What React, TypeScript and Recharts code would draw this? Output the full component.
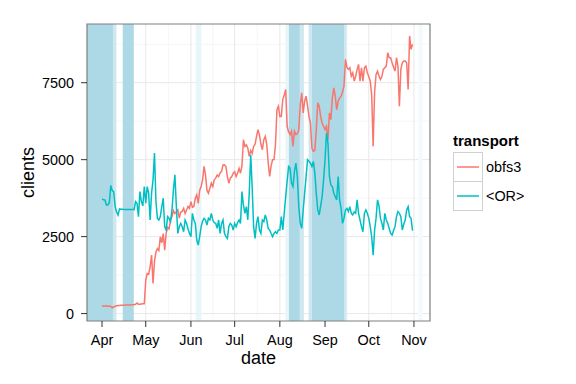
import { LineChart, Line, XAxis, YAxis, CartesianGrid, ReferenceArea, Legend, Label } from 'recharts';

const FONT = '"Liberation Sans", Arial, sans-serif';

// x is days since Apr 1
const monthLabels = ['Apr', 'May', 'Jun', 'Jul', 'Aug', 'Sep', 'Oct', 'Nov'];
const monthStarts = [0, 30, 61, 91, 122, 153, 183, 214];
const monthMids = [15, 45.5, 76, 106.5, 137.5, 168, 198.5];
const clientTicks = [0, 2500, 5000, 7500];
const clientMinor = [1250, 3750, 6250, 8750];

const X_MIN = -10.3;
const X_MAX = 225;
const Y_MIN = -241;
const Y_MAX = 9407;

const obfs3 = [
  250, 250, 245, 255, 240, 245, 235, 190, 215, 240,
  255, 260, 265, 268, 270, 272, 275, 278, 280, 282, 285, 288, 290,
  300, 344, 300, 300, 310, 320, 320,
  1083, 1300, 1280, 1518, 1899, 975, 1700, 2000, 2116, 2050,
  2497, 2300, 2600, 2062, 2605, 2800, 2750, 3040, 3150, 3350,
  3250, 3300, 3366, 3100, 3300, 3320, 3420, 3250, 3366, 3480,
  3420, 3638, 3450, 3480, 3750, 3855, 3580, 4000, 4127, 4350,
  4780, 4500, 4000, 3910, 4070, 4236, 4127, 4346, 4400, 4500,
  4450, 4570, 4620, 4830, 4834, 4779, 4450, 4236, 4400, 4453,
  4560, 4610, 4450, 4560, 4720, 4560, 4800, 5649, 5430, 5480,
  5380, 5105, 5300, 5200, 5430, 5500, 5757, 5975, 5800, 5500,
  5323, 5650, 5757, 5500, 4900, 4453, 4800, 4997, 5000, 5500,
  6627, 6736, 6400, 6410, 6953, 7100, 7279, 6084, 5900, 5812,
  5921, 5431, 5921, 5812, 5850, 5975, 6800, 7171, 6518, 6900,
  7062, 6736, 6400, 6192, 5378, 5268, 5300, 5975, 6845, 6736,
  6400, 6192, 6084, 5975, 6084, 5649, 6518, 6301, 7000, 7334,
  7062, 6627, 6900, 7008, 7062, 7200, 7388, 8258, 8000, 7932,
  7986, 7714, 7823, 7551, 7700, 7932, 8095, 7551, 7986, 7551,
  7986, 8040, 7823, 7700, 7551, 7100, 5431, 7200, 7768, 7877,
  7714, 7605, 7700, 7932, 7986, 8040, 8475, 8312, 8312, 8149,
  8000, 7877, 8312, 8040, 6736, 7932, 8149, 8203, 8203, 8150,
  7279, 9019, 8584, 8747,
];

const orClients = [
  3725, 3700, 3692, 3529, 3529, 3600, 4160, 4000, 3964, 3475,
  3300, 3203, 3399, 3390, 3388, 3385, 3385, 3383, 3380, 3380, 3380, 3378, 3375,
  3638, 3583, 3149, 3964, 3638, 3500, 4127,
  3583, 4127, 3910, 3040, 3910, 4344, 5214, 3638, 3094, 3040,
  3149, 3475, 3747, 2823, 2714, 3149, 3094, 2986, 3366, 4018,
  4507, 3475, 2605, 2823, 2931, 2823, 2660, 3040, 2931, 2750,
  2605, 2497, 3257, 3040, 2931, 2388, 2225, 2500, 2823, 3000,
  3094, 3040, 2877, 3094, 3040, 3257, 3040, 2950, 2931, 2768,
  3040, 2605, 2931, 3040, 2605, 2500, 2442, 2823, 2931, 2877,
  2714, 2931, 2823, 2950, 3040, 2931, 3964, 3529, 3257, 3475,
  3040, 3910, 5160, 4127, 2823, 2442, 2931, 3149, 2714, 2605,
  3040, 2986, 3203, 3040, 2768, 2714, 2600, 2497, 2605, 2660,
  2605, 2714, 2714, 3149, 2714, 3257, 3801, 4300, 4779, 4725,
  4236, 4127, 4616, 4888, 4453, 3475, 2931, 2768, 3366, 3910,
  4453, 4997, 4950, 4888, 4779, 4944, 4562, 3910, 3366, 3203,
  3500, 3801, 4344, 4997, 5868, 5540, 4453, 4181, 4127, 3910,
  3800, 3692, 4453, 3692, 3420, 2931, 3094, 3366, 3420, 3312,
  3475, 3257, 3203, 3300, 3257, 3692, 3257, 3040, 2823, 2660,
  3257, 3366, 3257, 3100, 2823, 2497, 1899, 2714, 3100, 3692,
  3500, 3100, 2931, 2714, 3257, 3040, 2931, 2768, 2605, 2551,
  2700, 2823, 3149, 3312, 3257, 3149, 2714, 2900, 3040, 3366,
  3475, 3149, 3094, 2693,
];

// shaded periods (days since Apr 1)
const darkSpans = [[X_MIN, 7.5], [14.2, 21.8], [128.2, 135.7], [144, 166]];
const paleSpans = [[7.5, 9.9], [135.7, 138.5], [141.7, 144], [166, 167.8]];
const faintSpans = [[64.3, 68.2], [125.8, 128.2]];
const veryFaintSpans = [[217, 220]];

const series = [
  { key: 'obfs3', name: 'obfs3', color: '#F8766D' },
  { key: 'or', name: '<OR>', color: '#00BFC4' },
];

const data = obfs3.map((v, i) => ({ day: i, obfs3: v, or: orClients[i] }));

function TransportLegend() {
  return (
    <svg width={120} height={92} style={{ fontFamily: FONT }}>
      <text x={8} y={21} fontSize={15} fontWeight="bold" fill="#000">transport</text>
      {series.map((s, i) => (
        <g key={s.key}>
          <rect x={8.5} y={27.5 + i * 29} width={29} height={29} fill="#fff" stroke="#D0D0D0" />
          <line x1={12} x2={34} y1={42 + i * 29} y2={42 + i * 29} stroke={s.color} strokeWidth={1.5} />
          <text x={41} y={47 + i * 29} fontSize={14.4} fill="#000">{s.name}</text>
        </g>
      ))}
    </svg>
  );
}

export default function App() {
  return (
    <div style={{ position: 'absolute', left: 0, top: 0, width: 576, height: 384, background: '#fff' }}>
      <LineChart
        width={576}
        height={384}
        data={data}
        margin={{ top: 24, right: 146, left: 30, bottom: 33 }}
        style={{ fontFamily: FONT }}
      >
        <CartesianGrid stroke="#F6F6F6" horizontalValues={clientMinor} verticalValues={monthMids} />
        <CartesianGrid stroke="#E8E8E8" horizontalValues={clientTicks} verticalValues={monthStarts} />
        {veryFaintSpans.map(([a, b], i) => (
          <ReferenceArea key={'v' + i} x1={a} x2={b} fill="#F3FAFC" fillOpacity={1} stroke="none" ifOverflow="hidden" />
        ))}
        {faintSpans.map(([a, b], i) => (
          <ReferenceArea key={'f' + i} x1={a} x2={b} fill="#EAF5F9" fillOpacity={1} stroke="none" ifOverflow="hidden" />
        ))}
        {paleSpans.map(([a, b], i) => (
          <ReferenceArea key={'p' + i} x1={a} x2={b} fill="#CFE8F0" fillOpacity={1} stroke="none" ifOverflow="hidden" />
        ))}
        {darkSpans.map(([a, b], i) => (
          <ReferenceArea key={'d' + i} x1={a} x2={b} fill="#ADD8E6" fillOpacity={1} stroke="none" ifOverflow="hidden" />
        ))}
        <XAxis
          dataKey="day"
          type="number"
          domain={[X_MIN, X_MAX]}
          allowDataOverflow
          ticks={monthStarts}
          tickFormatter={(v: number) => monthLabels[monthStarts.indexOf(v)]}
          axisLine={false}
          tickLine={{ stroke: '#333' }}
          tickSize={6}
          tickMargin={8}
          height={30}
          tick={{ fill: '#000', fontSize: 14.4 }}
        >
          <Label
            content={(props: any) => {
              const vb = props.viewBox;
              return (
                <text x={vb.x + vb.width / 2} y={vb.y + 43} textAnchor="middle" fontSize={18} fill="#000">
                  date
                </text>
              );
            }}
          />
        </XAxis>
        <YAxis
          type="number"
          domain={[Y_MIN, Y_MAX]}
          allowDataOverflow
          ticks={clientTicks}
          axisLine={false}
          tickLine={{ stroke: '#333' }}
          tickSize={6}
          tickMargin={7}
          width={57}
          tick={{ fill: '#000', fontSize: 14.4 }}
        >
          <Label
            content={(props: any) => {
              const vb = props.viewBox;
              const x = vb.x + 4;
              const y = vb.y + vb.height / 2;
              return (
                <text x={x} y={y} textAnchor="middle" fontSize={18} fill="#000" transform={`rotate(-90 ${x} ${y})`}>
                  clients
                </text>
              );
            }}
          />
        </YAxis>
        {series.map((s) => (
          <Line
            key={s.key}
            dataKey={s.key}
            name={s.name}
            type="linear"
            stroke={s.color}
            strokeWidth={1.5}
            dot={false}
            activeDot={false}
            isAnimationActive={false}
          />
        ))}
        <ReferenceArea x1={X_MIN} x2={X_MAX} y1={Y_MIN} y2={Y_MAX} fill="none" stroke="#7F7F7F" strokeWidth={1.2} ifOverflow="visible" />
        <Legend
          layout="horizontal"
          verticalAlign="middle"
          align="center"
          content={() => <TransportLegend />}
          wrapperStyle={{ left: 445, top: 125, width: 120, height: 92 }}
        />
      </LineChart>
    </div>
  );
}
